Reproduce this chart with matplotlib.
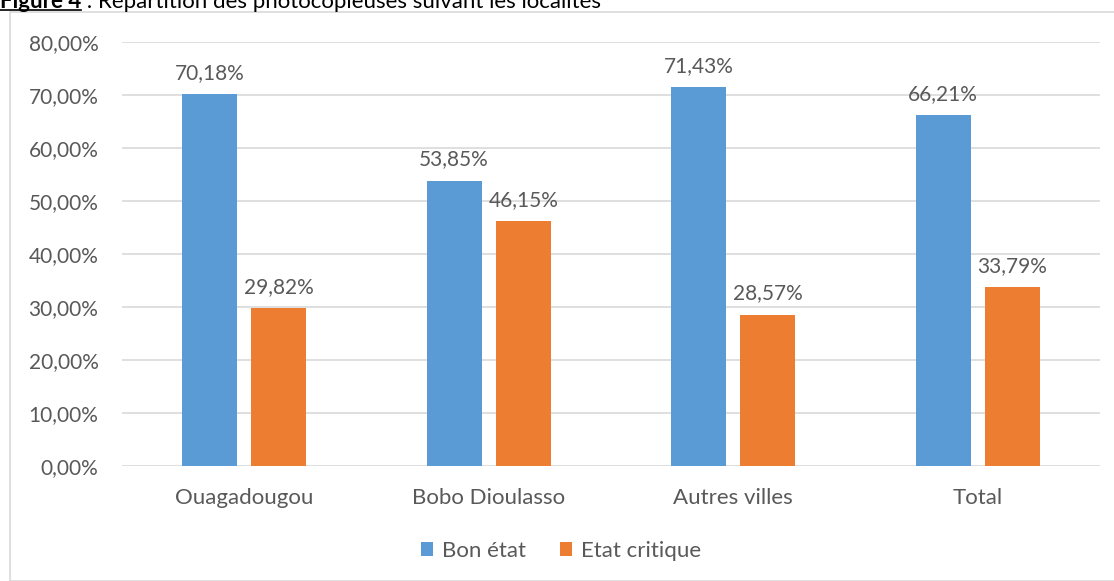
import matplotlib.pyplot as plt
import numpy as np
from matplotlib.patches import Rectangle

categories = ['Ouagadougou', 'Bobo Dioulasso', 'Autres villes', 'Total']
bon_etat = [70.18, 53.85, 71.43, 66.21]
etat_critique = [29.82, 46.15, 28.57, 33.79]
yticks = [0, 10, 20, 30, 40, 50, 60, 70, 80]

BLUE = '#5B9BD5'
ORANGE = '#ED7D31'
TXT = '#595959'
GRID = '#D9D9D9'

plt.rcParams['font.family'] = ['Lato', 'DejaVu Sans']

W, H = 1114, 581
fig = plt.figure(figsize=(W / 100, H / 100), dpi=100)

# chart frame
fig.patches.append(Rectangle((10 / W, 0), 1.2, 1 - 12 / H, transform=fig.transFigure,
                             fill=False, edgecolor='#D9D9D9', linewidth=1.2))

# title (cut off at the top like the original)
t1 = fig.text(0.0, 1 - 8 / H, 'Figure 4', fontsize=16, fontweight='bold', color='black',
              va='baseline', ha='left')
fig.canvas.draw()
bb = t1.get_window_extent()
fig.add_artist(plt.Line2D([bb.x0 / W, bb.x1 / W], [1 - 10 / H, 1 - 10 / H],
                          transform=fig.transFigure, color='black', linewidth=1.2))
fig.text(bb.x1 / W, 1 - 8 / H, ' : Répartition des photocopieuses suivant les localités',
         fontsize=16, color='black', va='baseline', ha='left')

ax = fig.add_axes([122 / W, 1 - 466 / H, (1100 - 122) / W, (466 - 42) / H])
x = np.arange(len(categories))
bw = 0.225
off = 0.142
b1 = ax.bar(x - off, bon_etat, bw, color=BLUE, label='Bon état', zorder=3)
b2 = ax.bar(x + off, etat_critique, bw, color=ORANGE, label='Etat critique', zorder=3)

for bars, vals in ((b1, bon_etat), (b2, etat_critique)):
    for r, v in zip(bars, vals):
        ax.annotate(f'{v:.2f}%'.replace('.', ','), (r.get_x() + r.get_width() / 2, v),
                    xytext=(0, 8), textcoords='offset points', ha='center', va='bottom',
                    fontsize=15, color=TXT)

ax.set_xlim(-0.5, len(categories) - 0.5)
ax.set_ylim(0, 80)
ax.set_yticks(yticks)
ax.set_yticklabels([f'{v:.2f}%'.replace('.', ',') for v in yticks])
ax.set_xticks(x)
ax.set_xticklabels(categories)
ax.tick_params(axis='y', length=0, labelsize=15, labelcolor=TXT, pad=17)
ax.tick_params(axis='x', length=0, labelsize=16, labelcolor=TXT, pad=16)
ax.grid(axis='y', color=GRID, linewidth=1.2, zorder=0)
for s in ax.spines.values():
    s.set_visible(False)

fig.legend(handles=[b1, b2], loc='center', bbox_to_anchor=(561 / W, 1 - 551 / H),
           ncol=2, frameon=False, fontsize=16, labelcolor=TXT, handlelength=0.55,
           handleheight=0.55, columnspacing=1.5, handletextpad=0.4)

fig.savefig('out.png', dpi=100)
